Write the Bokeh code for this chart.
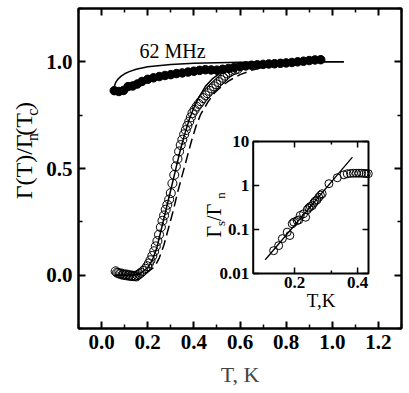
import math
from bokeh.plotting import figure
from bokeh.layouts import row
from bokeh.models import Range1d, LinearAxis, LogScale, Label, FixedTicker, CustomJSTickFormatter
from bokeh.core.properties import value
from bokeh.embed import file_html
from bokeh.resources import INLINE

# ---------------- data ----------------
x_ticks = [0.0, 0.2, 0.4, 0.6, 0.8, 1.0, 1.2]
x_tick_labels = ["0.0", "0.2", "0.4", "0.6", "0.8", "1.0", "1.2"]
x_minor = [-0.1, 0.1, 0.3, 0.5, 0.7, 0.9, 1.1, 1.3]
y_ticks = [0.0, 0.5, 1.0]
y_tick_labels = ["0.0", "0.5", "1.0"]
y_minor = [-0.25, 0.25, 0.75, 1.25]

# 62 MHz normal-state data (filled circles)
T_norm = [0.055, 0.075, 0.095, 0.115, 0.135, 0.155, 0.175, 0.2, 0.225, 0.25,
          0.275, 0.3, 0.325, 0.35, 0.375, 0.4, 0.425, 0.45, 0.475, 0.5,
          0.525, 0.55, 0.575, 0.6, 0.625, 0.65, 0.675, 0.7, 0.725, 0.75,
          0.775, 0.8, 0.825, 0.85, 0.875, 0.9, 0.925, 0.95]
G_norm = [0.865, 0.861, 0.866, 0.884, 0.887, 0.896, 0.908, 0.918, 0.925, 0.931,
          0.936, 0.94, 0.945, 0.948, 0.952, 0.956, 0.96, 0.963, 0.962, 0.961,
          0.965, 0.969, 0.974, 0.978, 0.981, 0.984, 0.986, 0.988, 0.99, 0.991,
          0.993, 0.995, 0.997, 1.0, 1.003, 1.006, 1.009, 1.01]

# normal-state fit (upper solid line)
T_norm_fit = [0.055, 0.062, 0.07, 0.085, 0.1, 0.12, 0.15, 0.2, 0.3, 0.4, 0.5,
              0.6, 0.7, 0.8, 0.9, 1.05]
G_norm_fit = [0.884, 0.905, 0.918, 0.933, 0.944, 0.954, 0.965, 0.977, 0.988,
              0.993, 0.996, 0.998, 0.999, 1.0, 1.0, 1.0]

# superconducting-state data (open circles)
T_sc = [0.061, 0.067, 0.073, 0.079, 0.085, 0.091, 0.097, 0.103, 0.109, 0.115,
        0.121, 0.127, 0.133, 0.139, 0.145, 0.151, 0.156, 0.163, 0.17, 0.18,
        0.19, 0.198, 0.205, 0.212, 0.22, 0.228, 0.235, 0.242, 0.249, 0.257,
        0.264, 0.271, 0.278, 0.285, 0.293, 0.3, 0.307, 0.315, 0.322, 0.329,
        0.336, 0.343, 0.35, 0.358, 0.365, 0.372, 0.38, 0.387, 0.394, 0.403,
        0.412, 0.421, 0.43, 0.44, 0.45, 0.459, 0.468, 0.478, 0.487, 0.497,
        0.507, 0.517, 0.527, 0.536, 0.546, 0.556, 0.566, 0.578, 0.59]
G_sc = [0.018, 0.012, 0.01, 0.006, 0.008, 0.002, 0.004, 0.0, 0.003, -0.002,
        0.0, -0.004, -0.002, -0.005, -0.003, -0.006, 0.0, 0.005, 0.011, 0.02,
        0.03, 0.042, 0.055, 0.07, 0.09, 0.112, 0.135, 0.16, 0.19, 0.225,
        0.255, 0.28, 0.307, 0.33, 0.355, 0.385, 0.43, 0.47, 0.51, 0.545,
        0.58, 0.61, 0.635, 0.66, 0.68, 0.7, 0.72, 0.74, 0.76, 0.775,
        0.79, 0.803, 0.815, 0.83, 0.843, 0.853, 0.864, 0.875, 0.885, 0.895,
        0.905, 0.915, 0.925, 0.935, 0.945, 0.952, 0.958, 0.963, 0.967]

# superconducting fit (solid) and alternative fit (dashed)
T_sc_fit = [0.06, 0.1, 0.14, 0.17, 0.2, 0.22, 0.24, 0.26, 0.28, 0.3, 0.32, 0.34,
            0.36, 0.38, 0.4, 0.42, 0.45, 0.48, 0.52, 0.56, 0.6, 0.65, 0.7, 0.8,
            0.9, 1.0, 1.05]
G_sc_fit = [0.0, 0.0, 0.002, 0.01, 0.035, 0.07, 0.13, 0.22, 0.31, 0.4, 0.49,
            0.58, 0.66, 0.73, 0.785, 0.83, 0.885, 0.92, 0.952, 0.972, 0.985,
            0.993, 0.997, 1.0, 1.0, 1.0, 1.0]
T_sc_dash = [0.06, 0.12, 0.17, 0.2, 0.23, 0.25, 0.27, 0.29, 0.31, 0.33, 0.35,
             0.37, 0.39, 0.41, 0.43, 0.46, 0.49, 0.52, 0.55, 0.6, 0.65, 0.7, 0.8]
G_sc_dash = [0.0, 0.0, 0.003, 0.015, 0.04, 0.08, 0.14, 0.22, 0.3, 0.39, 0.47,
             0.55, 0.63, 0.7, 0.755, 0.81, 0.855, 0.885, 0.91, 0.94, 0.96,
             0.975, 0.99]

# inset: Gamma_s / Gamma_n vs T (log-log)
inset_T = [0.159, 0.168, 0.175, 0.1845, 0.19, 0.195, 0.1985, 0.206, 0.2095,
           0.213, 0.221, 0.226, 0.23, 0.234, 0.238, 0.243, 0.247, 0.251, 0.256,
           0.261, 0.266, 0.271, 0.292, 0.32, 0.344, 0.357, 0.37, 0.382, 0.394,
           0.406, 0.418, 0.43, 0.44, 0.45]
inset_G = [0.033, 0.043, 0.062, 0.087, 0.073, 0.135, 0.147, 0.16, 0.165,
           0.208, 0.228, 0.19, 0.28, 0.31, 0.333, 0.35, 0.4, 0.44, 0.47,
           0.54, 0.6, 0.65, 1.1, 1.5, 1.75, 1.85, 1.88, 1.9, 1.9,
           1.9, 1.9, 1.88, 1.87, 1.86]
inset_fit_T = [0.145, 0.378]
inset_fit_G = [0.0205, 4.4]
ix_ticks = [0.2, 0.4]
ix_tick_labels = ["0.2", "0.4"]
ix_minor = [0.3]
iy_ticks = [0.01, 0.1, 1.0, 10.0]
iy_tick_labels = ["0.01", "0.1", "1", "10"]

# ---------------- geometry (page px) ----------------
FONT = "Liberation Serif"
X_RANGE = (-0.1, 1.3)
Y_RANGE = (-0.25, 1.25)
LW = 40                      # strip holding the vertical axis title
H = 391
ML, MR, MT, MB = 38, 2, 8, 63
FW, FH = 323, 320
W = ML + FW + MR
FL, FT = LW + ML, MT         # frame left/top in page px


def px2x(px):
    return X_RANGE[0] + (px - FL) / FW * (X_RANGE[1] - X_RANGE[0])


def py2y(py):
    return Y_RANGE[1] - (py - FT) / FH * (Y_RANGE[1] - Y_RANGE[0])


p = figure(width=W, height=H, x_range=Range1d(*X_RANGE), y_range=Range1d(*Y_RANGE),
           output_backend="svg", toolbar_location=None,
           min_border_left=ML, min_border_right=MR, min_border_top=MT, min_border_bottom=MB)
p.grid.visible = False
p.outline_line_color = "black"
p.outline_line_width = 2
p.background_fill_color = "white"
p.border_fill_color = "white"

xt = FixedTicker(ticks=x_ticks, minor_ticks=x_minor)
yt = FixedTicker(ticks=y_ticks, minor_ticks=y_minor)


def style_axis(ax):
    ax.axis_line_width = 2
    ax.major_tick_in = 7
    ax.major_tick_out = 0
    ax.minor_tick_in = 4
    ax.minor_tick_out = 0
    ax.major_tick_line_width = 2
    ax.minor_tick_line_width = 1.5
    ax.major_label_text_font = FONT
    ax.major_label_text_font_style = "bold"
    ax.major_label_text_font_size = "21px"
    ax.major_label_text_color = "black"


xa = p.xaxis[0]
xa.ticker = xt
xa.major_label_overrides = dict(zip(x_ticks, x_tick_labels))
style_axis(xa)
xa.major_label_standoff = 6
xa.axis_label = "T, K"
xa.axis_label_text_font = FONT
xa.axis_label_text_font_style = "normal"
xa.axis_label_text_font_size = "22px"
xa.axis_label_standoff = 10

ya = p.yaxis[0]
ya.ticker = yt
ya.major_label_overrides = dict(zip(y_ticks, y_tick_labels))
style_axis(ya)
ya.major_label_standoff = 6

blank = CustomJSTickFormatter(code="return ''")
for loc, tk in (("above", xt), ("right", yt)):
    ax = LinearAxis(ticker=tk, formatter=blank)
    style_axis(ax)
    ax.major_label_text_font_size = "0px"
    ax.major_label_standoff = 0
    p.add_layout(ax, loc)

# ---------------- main data ----------------
p.line(T_norm_fit, G_norm_fit, line_color="black", line_width=1.5)
p.line(T_sc_fit, G_sc_fit, line_color="black", line_width=1.5)
p.line(T_sc_dash, G_sc_dash, line_color="black", line_width=1.5, line_dash="10 5")
p.scatter(T_sc, G_sc, marker="circle", size=9, fill_color=None,
          line_color="black", line_width=1)
p.scatter(T_norm, G_norm, marker="circle", size=8.5, fill_color="black",
          line_color="black")

# ---------------- inset (log-log) ----------------
IB_L, IB_R, IB_T, IB_B = 252.7, 368.0, 141.0, 273.0   # inset box in page px
IX0, IX1 = 0.127, 0.451
IY0, IY1 = 0.01, 10.0
lx0, lx1 = math.log10(IX0), math.log10(IX1)
ppd_x = (IB_R - IB_L) / (lx1 - lx0)
ly0, ly1 = math.log10(IY0), math.log10(IY1)
ppd_y = (IB_B - IB_T) / (ly1 - ly0)
p.extra_x_ranges = {"ix": Range1d(10 ** (lx0 - (IB_L - FL) / ppd_x),
                                  10 ** (lx1 + (FL + FW - IB_R) / ppd_x))}
p.extra_y_ranges = {"iy": Range1d(10 ** (ly0 - (FT + FH - IB_B) / ppd_y),
                                  10 ** (ly1 + (IB_T - FT) / ppd_y))}
p.extra_x_scales = {"ix": LogScale()}
p.extra_y_scales = {"iy": LogScale()}
IR = dict(x_range_name="ix", y_range_name="iy")

p.quad(left=[IX0], right=[IX1], bottom=[IY0], top=[IY1], fill_color="white",
       line_color="black", line_width=2, **IR)
tick_kw = dict(line_color="black", line_width=1.5, length_units="screen", **IR)
p.ray(x=[IX0] * len(iy_ticks), y=iy_ticks, length=6, angle=0, **tick_kw)
p.ray(x=[IX1] * len(iy_ticks), y=iy_ticks, length=6, angle=math.pi, **tick_kw)
p.ray(x=ix_ticks, y=[IY0] * len(ix_ticks), length=6, angle=math.pi / 2, **tick_kw)
p.ray(x=ix_ticks, y=[IY1] * len(ix_ticks), length=6, angle=-math.pi / 2, **tick_kw)
p.ray(x=ix_minor, y=[IY0] * len(ix_minor), length=3, angle=math.pi / 2, **tick_kw)
p.ray(x=ix_minor, y=[IY1] * len(ix_minor), length=3, angle=-math.pi / 2, **tick_kw)

p.line(inset_fit_T, inset_fit_G, line_color="black", line_width=1.3, **IR)
p.scatter(inset_T, inset_G, marker="circle", size=8, fill_color=None,
          line_color="black", line_width=1, **IR)

p.text(x=[IX0] * len(iy_ticks), y=iy_ticks, text=iy_tick_labels, x_offset=-4,
       text_align="right", text_baseline="middle", text_font=value(FONT),
       text_font_style="bold", text_font_size="17px", **IR)
p.text(x=ix_ticks, y=[IY0] * len(ix_ticks), text=ix_tick_labels, y_offset=3,
       text_align="center", text_baseline="top", text_font=value(FONT),
       text_font_style="bold", text_font_size="17px", **IR)
p.text(x=[0.268], y=[IY0], text=["T,K"], y_offset=27, text_align="center",
       text_baseline="alphabetic", text_font=value(FONT), text_font_size="19px", **IR)

# ---------------- texts ----------------
p.text(x=[px2x(139)], y=[py2y(50)], text=["62 MHz"], text_font=value(FONT),
       text_font_size="20px", text_align="left", text_baseline="alphabetic")

CW = {"Γ": 0.578, "(": 0.333, ")": 0.333, "T": 0.611, "/": 0.278, "n": 0.5,
      "c": 0.444, "s": 0.389, " ": 0.25}


def vpieces(pieces, base_px, start_py, size, sub_size, sub_shift):
    """Centres (page px) of the pieces of an upward-reading title."""
    out = []
    py = start_py
    for txt, sub in pieces:
        fs = sub_size if sub else size
        w = sum(CW[c] for c in txt) * fs
        cx = base_px + (sub_shift if sub else 0) - 0.33 * fs
        out.append((txt, cx, py - w / 2, fs))
        py -= w
    return out


# inset vertical title, drawn inside the main frame
for txt, cx, cy, fs in vpieces([("Γ", False), ("s", True), (" /Γ", False), ("n", True)],
                               220, 237, 20, 13, 4):
    p.text(x=[px2x(cx)], y=[py2y(cy)], text=[txt], angle=math.pi / 2,
           text_align="center", text_baseline="middle", text_font=value(FONT),
           text_font_size=f"{fs}px")

# strip at the left holding the main vertical title
lf = figure(width=LW, height=H, x_range=Range1d(0, LW), y_range=Range1d(H, 0),
            output_backend="svg", toolbar_location=None,
            x_axis_location=None, y_axis_location=None,
            min_border_left=0, min_border_right=0, min_border_top=0, min_border_bottom=0)
lf.grid.visible = False
lf.outline_line_color = None
lf.background_fill_color = "white"
lf.border_fill_color = "white"
for txt, cx, cy, fs in vpieces([("Γ(T)/Γ", False), ("n", True), ("(T", False),
                                ("c", True), (")", False)], 31, 226, 24, 16, 6):
    lf.text(x=[cx], y=[cy], text=[txt], angle=math.pi / 2,
            text_align="center", text_baseline="middle", text_font=value(FONT),
            text_font_size=f"{fs}px")

layout = row(lf, p, spacing=0)
open("out.html", "w").write(file_html(layout, INLINE))
